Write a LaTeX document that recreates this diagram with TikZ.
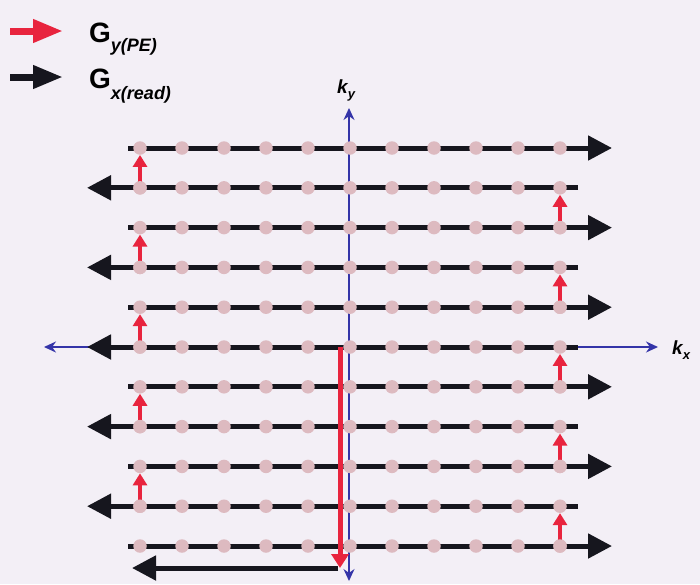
\documentclass[tikz,border=0pt]{standalone}
\usepackage{fontspec}
\setmainfont{Liberation Sans}
\usetikzlibrary{arrows.meta}
\definecolor{bgc}{RGB}{243,239,246}
\definecolor{dotc}{RGB}{221,186,192}
\definecolor{redc}{RGB}{232,36,62}
\definecolor{bluec}{RGB}{52,52,168}
\definecolor{blk}{RGB}{22,22,30}
\begin{document}
\begin{tikzpicture}[x=1pt,y=-1pt,
  rowline/.style={draw=blk,line width=5pt,-{Triangle[length=24pt,width=24pt]}},
  stepline/.style={draw=redc,line width=4pt,-{Triangle[length=12pt,width=14pt]}},
  bigred/.style={draw=redc,line width=5pt,-{Triangle[length=14pt,width=17pt]}},
  axisline/.style={draw=bluec,line width=1.4pt,{Stealth[length=12pt,width=11pt]}-{Stealth[length=12pt,width=11pt]}},
  dot/.style={circle,fill=dotc,inner sep=0pt,minimum size=13.5pt},
  legred/.style={draw=redc,line width=7pt,-{Triangle[length=30pt,width=22pt]}},
  legblk/.style={draw=blk,line width=7pt,-{Triangle[length=30pt,width=22pt]}},
  lab/.style={inner sep=0pt,anchor=base west}]
\fill[bgc] (0,0) rectangle (700,584);
\useasboundingbox (0,0) rectangle (700,584);

% legend
\coordinate (lr1) at (10,31); \coordinate (lr2) at (63,31);
\coordinate (lb1) at (10,77); \coordinate (lb2) at (63,77);
\draw[legred] (lr1) -- (lr2);
\draw[legblk] (lb1) -- (lb2);
\node[lab] (gy) at (89,42) {\bfseries\fontsize{28}{30}\selectfont G\raisebox{-9pt}{\itshape\fontsize{18}{20}\selectfont y(PE)}};
\node[lab] (gx) at (89,88) {\bfseries\fontsize{28}{30}\selectfont G\raisebox{-11pt}{\itshape\fontsize{18}{20}\selectfont x(read)}};

% axes
\pgfmathsetmacro\ysix{148+39.8*5}
\coordinate (kyt) at (349,108); \coordinate (kyb) at (349,581);
\coordinate (kxl) at (44,\ysix); \coordinate (kxr) at (658,\ysix);
\draw[axisline] (kyb) -- (kyt);
\draw[axisline] (kxl) -- (kxr);
\node[lab] (kylab) at (337,93) {\bfseries\itshape\fontsize{19}{20}\selectfont k\raisebox{-5pt}{\fontsize{13}{14}\selectfont y}};
\node[lab] (kxlab) at (672,354) {\bfseries\itshape\fontsize{19}{20}\selectfont k\raisebox{-5pt}{\fontsize{13}{14}\selectfont x}};

% rows
\foreach \i in {1,...,11}{
  \pgfmathsetmacro\yy{148+39.8*(\i-1)}
  \ifodd\i
    \coordinate (s\i) at (128,\yy); \coordinate (e\i) at (612,\yy);
  \else
    \coordinate (s\i) at (578,\yy); \coordinate (e\i) at (87,\yy);
  \fi
  \draw[rowline] (s\i) -- (e\i);
}

% return path
\coordinate (rtop) at (340,\ysix);
\coordinate (rbot) at (340,568);
\coordinate (rend) at (132,568);
\draw[rowline] (338,568) -- (rend);
\draw[bigred] (rtop) -- (rbot);

% dots
\foreach \i in {1,...,11}{
  \pgfmathsetmacro\yy{148+39.8*(\i-1)}
  \foreach \j in {1,...,11}{
    \node[dot] (d\i-\j) at ({140+42*(\j-1)},\yy) {};
  }
}

% phase-encode steps
\foreach \k [evaluate=\k as \kk using int(\k+1)] in {1,3,5,7,9}{
  \draw[stepline] (d\kk-1.center) -- (d\k-1.south);
}
\foreach \k [evaluate=\k as \kk using int(\k+1)] in {2,4,6,8,10}{
  \draw[stepline] (d\kk-11.center) -- (d\k-11.south);
}
% redraw dots at step starts over the red lines
\foreach \k in {2,4,6,8,10}{ \fill[dotc] (d\k-1) circle (6.75pt); }
\foreach \k in {3,5,7,9,11}{ \fill[dotc] (d\k-11) circle (6.75pt); }
\end{tikzpicture}
\end{document}
